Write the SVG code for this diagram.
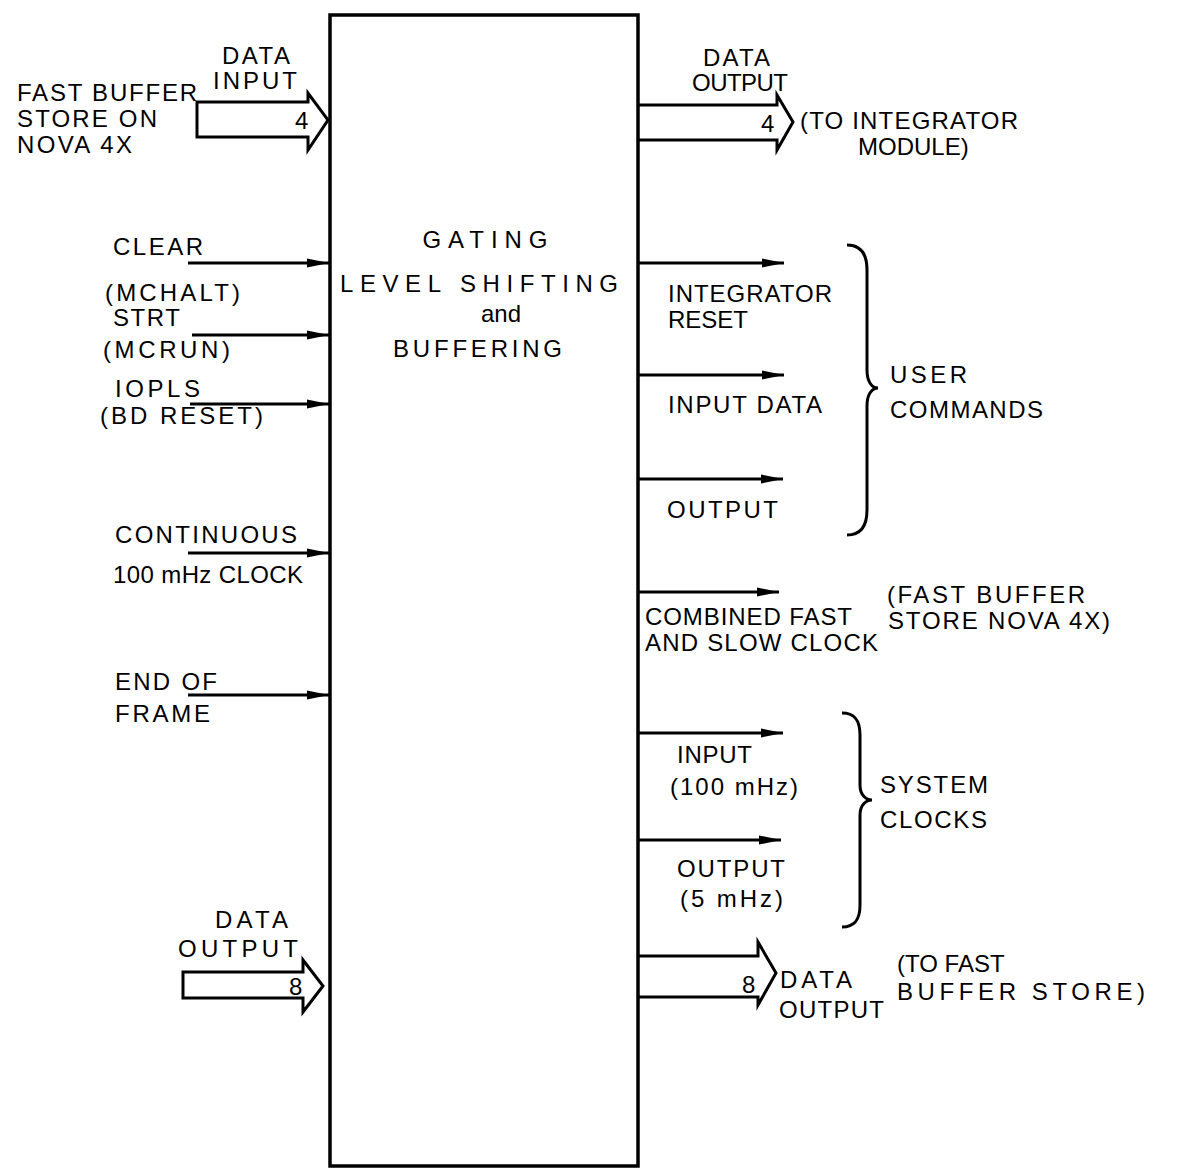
<svg xmlns="http://www.w3.org/2000/svg" width="1190" height="1168" viewBox="0 0 1190 1168">
<style>
text{font-family:"Liberation Sans","DejaVu Sans",Arial,sans-serif;font-size:24px;fill:#000;}
.ln{stroke:#000;stroke-width:3;fill:none;}
.bus{stroke:#000;stroke-width:3;fill:#fff;stroke-linejoin:miter;}
.box{stroke:#000;stroke-width:3.5;fill:none;}
.brace{stroke:#000;stroke-width:3;fill:none;}
</style>
<defs>
<marker id="ah" markerUnits="userSpaceOnUse" markerWidth="24" markerHeight="12" refX="22" refY="6" orient="auto">
<path d="M0,1.5 L22,6 L0,10.5 z" fill="#000"/>
</marker>
</defs>
<rect width="1190" height="1168" fill="#fff"/>

<g id="connectors">
<path class="bus" d="M197,102 L308,102 L308,93 L328,120 L308,150 L308,137 L197,137 Z"/>
<path class="bus" d="M638,105 L777,105 L777,95 L793,122 L777,150 L777,140 L638,140"/>
<path class="bus" d="M183,972 L303,972 L303,960 L323,986 L303,1012 L303,998 L183,998 Z"/>
<path class="bus" d="M638,956 L758,956 L758,942 L776,973 L758,1005 L758,997 L638,997"/>
<line class="ln" x1="188" y1="263" x2="329" y2="263" marker-end="url(#ah)"/>
<line class="ln" x1="192" y1="335" x2="329" y2="335" marker-end="url(#ah)"/>
<line class="ln" x1="190" y1="404" x2="329" y2="404" marker-end="url(#ah)"/>
<line class="ln" x1="188" y1="553" x2="329" y2="553" marker-end="url(#ah)"/>
<line class="ln" x1="188" y1="695" x2="329" y2="695" marker-end="url(#ah)"/>
<line class="ln" x1="638" y1="263" x2="784" y2="263" marker-end="url(#ah)"/>
<line class="ln" x1="638" y1="375" x2="784" y2="375" marker-end="url(#ah)"/>
<line class="ln" x1="638" y1="479" x2="783" y2="479" marker-end="url(#ah)"/>
<line class="ln" x1="638" y1="592" x2="779" y2="592" marker-end="url(#ah)"/>
<line class="ln" x1="638" y1="733" x2="783" y2="733" marker-end="url(#ah)"/>
<line class="ln" x1="638" y1="840" x2="781" y2="840" marker-end="url(#ah)"/>
<path class="brace" d="M847,245 C862,245 867,255 867,270 L867,370 C867,382 872,388 878,388 C872,388 867,394 867,406 L867,510 C867,525 862,535 847,535"/>
<path class="brace" d="M842,713 C856,713 860,722 860,735 L860,785 C860,795 866,800 872,800 C866,800 860,805 860,815 L860,905 C860,918 856,927 842,927"/>
</g>

<g id="main-block">
<rect class="box" x="330" y="15" width="308" height="1151"/>
<text x="485" y="248" text-anchor="middle" textLength="125" lengthAdjust="spacing">GATING</text>
<text x="340" y="292" textLength="278" lengthAdjust="spacing">LEVEL SHIFTING</text>
<text x="481" y="322" textLength="40" lengthAdjust="spacing">and</text>
<text x="393" y="357" textLength="169" lengthAdjust="spacing">BUFFERING</text>
</g>

<g id="in-data">
<text x="222" y="64" textLength="68" lengthAdjust="spacing">DATA</text>
<text x="213" y="89" textLength="84" lengthAdjust="spacing">INPUT</text>
<text x="295" y="129">4</text>
<text x="17" y="101" textLength="180" lengthAdjust="spacing">FAST BUFFER</text>
<text x="17" y="127" textLength="140" lengthAdjust="spacing">STORE ON</text>
<text x="17" y="153" textLength="115" lengthAdjust="spacing">NOVA 4X</text>
</g>

<g id="in-clear">
<text x="113" y="255" textLength="90" lengthAdjust="spacing">CLEAR</text>
<text x="105" y="301" textLength="135" lengthAdjust="spacing">(MCHALT)</text>
</g>
<g id="in-strt">
<text x="113" y="326" textLength="67" lengthAdjust="spacing">STRT</text>
<text x="103" y="358" textLength="127" lengthAdjust="spacing">(MCRUN)</text>
</g>
<g id="in-iopls">
<text x="115" y="397" textLength="85" lengthAdjust="spacing">IOPLS</text>
<text x="100" y="424" textLength="163" lengthAdjust="spacing">(BD RESET)</text>
</g>
<g id="in-clock">
<text x="115" y="543" textLength="182" lengthAdjust="spacing">CONTINUOUS</text>
<text x="113" y="583" textLength="190" lengthAdjust="spacing">100 mHz CLOCK</text>
</g>
<g id="in-eof">
<text x="115" y="690" textLength="102" lengthAdjust="spacing">END OF</text>
<text x="115" y="722" textLength="95" lengthAdjust="spacing">FRAME</text>
</g>
<g id="in-data8">
<text x="215" y="928" textLength="73" lengthAdjust="spacing">DATA</text>
<text x="178" y="957" textLength="120" lengthAdjust="spacing">OUTPUT</text>
<text x="289" y="995">8</text>
</g>

<g id="out-data4">
<text x="703" y="66" textLength="67" lengthAdjust="spacing">DATA</text>
<text x="692" y="91" textLength="96" lengthAdjust="spacing">OUTPUT</text>
<text x="761" y="132">4</text>
<text x="800" y="129" textLength="218" lengthAdjust="spacing">(TO INTEGRATOR</text>
<text x="858" y="155">MODULE)</text>
</g>

<g id="out-user">
<text x="668" y="302" textLength="164" lengthAdjust="spacing">INTEGRATOR</text>
<text x="668" y="328" textLength="80" lengthAdjust="spacing">RESET</text>
<text x="668" y="413" textLength="154" lengthAdjust="spacing">INPUT DATA</text>
<text x="667" y="518" textLength="111" lengthAdjust="spacing">OUTPUT</text>
<text x="890" y="383" textLength="77" lengthAdjust="spacing">USER</text>
<text x="890" y="418" textLength="153" lengthAdjust="spacing">COMMANDS</text>
</g>

<g id="out-combined">
<text x="645" y="625" textLength="207" lengthAdjust="spacing">COMBINED FAST</text>
<text x="645" y="651" textLength="233" lengthAdjust="spacing">AND SLOW CLOCK</text>
<text x="887" y="603" textLength="198" lengthAdjust="spacing">(FAST BUFFER</text>
<text x="888" y="629" textLength="222" lengthAdjust="spacing">STORE NOVA 4X)</text>
</g>

<g id="out-clocks">
<text x="677" y="763" textLength="75" lengthAdjust="spacing">INPUT</text>
<text x="670" y="795" textLength="128" lengthAdjust="spacing">(100 mHz)</text>
<text x="677" y="877" textLength="108" lengthAdjust="spacing">OUTPUT</text>
<text x="680" y="907" textLength="103" lengthAdjust="spacing">(5 mHz)</text>
<text x="880" y="793" textLength="108" lengthAdjust="spacing">SYSTEM</text>
<text x="880" y="828" textLength="107" lengthAdjust="spacing">CLOCKS</text>
</g>

<g id="out-data8">
<text x="742" y="993">8</text>
<text x="780" y="988" textLength="72" lengthAdjust="spacing">DATA</text>
<text x="779" y="1018" textLength="105" lengthAdjust="spacing">OUTPUT</text>
<text x="897" y="972">(TO FAST</text>
<text x="897" y="1000" textLength="248" lengthAdjust="spacing">BUFFER STORE)</text>
</g>
</svg>
